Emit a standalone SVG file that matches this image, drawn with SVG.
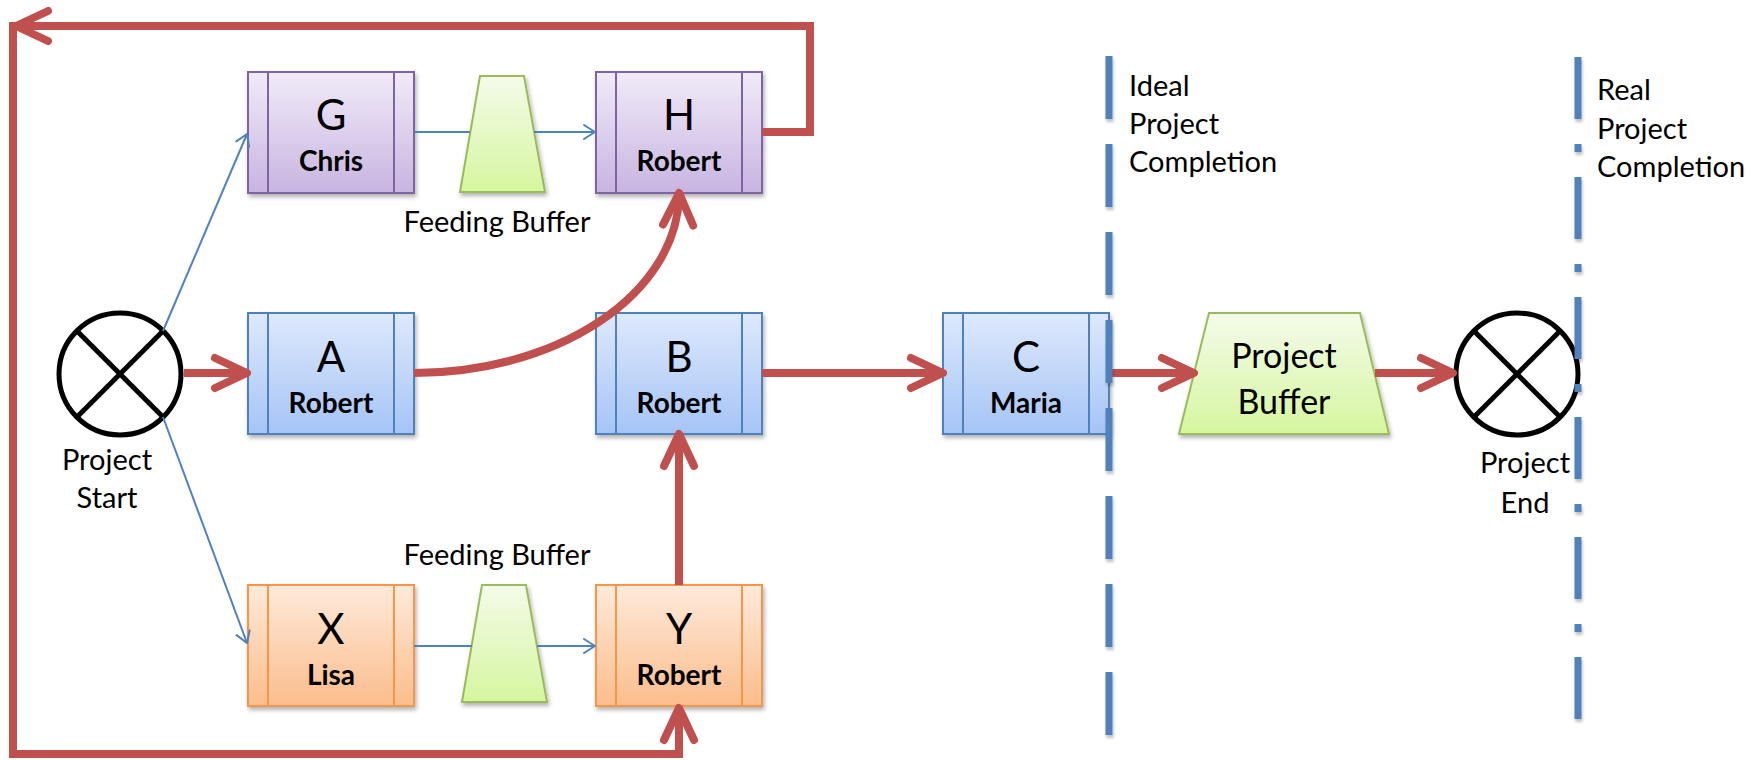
<svg xmlns="http://www.w3.org/2000/svg" width="1764" height="760" viewBox="0 0 1764 760">
<defs>
  <linearGradient id="gPurple" x1="0" y1="0" x2="0" y2="1">
    <stop offset="0" stop-color="#F1EBF8"/><stop offset="1" stop-color="#C8B4E1"/>
  </linearGradient>
  <linearGradient id="gBlue" x1="0" y1="0" x2="0" y2="1">
    <stop offset="0" stop-color="#DEE9FC"/><stop offset="1" stop-color="#A5C4F6"/>
  </linearGradient>
  <linearGradient id="gOrange" x1="0" y1="0" x2="0" y2="1">
    <stop offset="0" stop-color="#FEEADB"/><stop offset="1" stop-color="#FBBD8C"/>
  </linearGradient>
  <linearGradient id="gGreen" x1="0" y1="0" x2="0" y2="1">
    <stop offset="0" stop-color="#F4FBEA"/><stop offset="1" stop-color="#D6F69F"/>
  </linearGradient>
  <filter id="shadow" x="-10%" y="-10%" width="130%" height="130%">
    <feDropShadow dx="1.5" dy="3" stdDeviation="2" flood-color="#000" flood-opacity="0.3"/>
  </filter>
  <filter id="lineShadow" filterUnits="userSpaceOnUse" x="0" y="0" width="1764" height="760">
    <feDropShadow dx="1" dy="3" stdDeviation="1.5" flood-color="#000" flood-opacity="0.25"/>
  </filter>
  <marker id="redArrow" markerUnits="userSpaceOnUse" viewBox="-44 -24 52 48" markerWidth="52" markerHeight="48" refX="-4" refY="0" orient="auto">
    <path d="M-32,-15 L0,0 L-32,15" fill="none" stroke="#C0504D" stroke-width="8" stroke-linecap="round" stroke-linejoin="round"/>
  </marker>
  <marker id="blueArrow" markerUnits="userSpaceOnUse" viewBox="-16 -10 20 20" markerWidth="20" markerHeight="20" refX="0" refY="0" orient="auto">
    <path d="M-11,-7 L0,0 L-11,7" fill="none" stroke="#4F81BD" stroke-width="2" stroke-linecap="round" stroke-linejoin="round"/>
  </marker>
</defs>
<style>
  .box { stroke-width: 2; filter: url(#shadow); }
  .purple { fill: url(#gPurple); stroke: #8064A2; }
  .blue { fill: url(#gBlue); stroke: #4F81BD; }
  .orange { fill: url(#gOrange); stroke: #F79646; }
  .div { stroke-width: 2; }
  .dpurple { stroke: #8064A2; }
  .dblue { stroke: #4F81BD; }
  .dorange { stroke: #F79646; }
  .buf { fill: url(#gGreen); stroke: #9BBB59; stroke-width: 2; filter: url(#shadow); }
  .evt { fill: #fff; stroke: #000; stroke-width: 5; }
  .cross { stroke: #000; stroke-width: 5; }
  .letter { font-family: Lato, "Open Sans", sans-serif; font-size: 42px; text-anchor: middle; fill: #000; }
  .name { font-family: Lato, "Open Sans", sans-serif; font-size: 28px; font-weight: bold; text-anchor: middle; fill: #000; }
  .lbl { font-family: Lato, "Open Sans", sans-serif; font-size: 29px; fill: #000; }
  .mid { text-anchor: middle; }
  .big { font-family: Lato, "Open Sans", sans-serif; font-size: 34px; text-anchor: middle; fill: #000; }
  .red { fill: none; stroke: #C0504D; stroke-width: 8; marker-end: url(#redArrow); }
  .bl { fill: none; stroke: #4F81BD; stroke-width: 2; }
  .bla { fill: none; stroke: #4F81BD; stroke-width: 2; marker-end: url(#blueArrow); }
  .milestone { fill: none; stroke: #4F81BD; stroke-width: 7; filter: url(#lineShadow); }
</style>
<rect width="1764" height="760" fill="#fff"/>

<g id="node-G">
  <rect class="box purple" x="248" y="72" width="166" height="121"/>
  <line class="div dpurple" x1="268" y1="72" x2="268" y2="193"/>
  <line class="div dpurple" x1="394" y1="72" x2="394" y2="193"/>
  <text class="letter" x="331" y="130">G</text>
  <text class="name" x="331" y="171">Chris</text>
</g>
<g id="node-H">
  <rect class="box purple" x="596" y="72" width="166" height="121"/>
  <line class="div dpurple" x1="616" y1="72" x2="616" y2="193"/>
  <line class="div dpurple" x1="742" y1="72" x2="742" y2="193"/>
  <text class="letter" x="679" y="130">H</text>
  <text class="name" x="679" y="171">Robert</text>
</g>
<g id="node-A">
  <rect class="box blue" x="248" y="313" width="166" height="121"/>
  <line class="div dblue" x1="268" y1="313" x2="268" y2="434"/>
  <line class="div dblue" x1="394" y1="313" x2="394" y2="434"/>
  <text class="letter" x="331" y="372">A</text>
  <text class="name" x="331" y="413">Robert</text>
</g>
<g id="node-B">
  <rect class="box blue" x="596" y="313" width="166" height="121"/>
  <line class="div dblue" x1="616" y1="313" x2="616" y2="434"/>
  <line class="div dblue" x1="742" y1="313" x2="742" y2="434"/>
  <text class="letter" x="679" y="372">B</text>
  <text class="name" x="679" y="413">Robert</text>
</g>
<g id="node-C">
  <rect class="box blue" x="943" y="313" width="166" height="121"/>
  <line class="div dblue" x1="963" y1="313" x2="963" y2="434"/>
  <line class="div dblue" x1="1089" y1="313" x2="1089" y2="434"/>
  <text class="letter" x="1026" y="372">C</text>
  <text class="name" x="1026" y="413">Maria</text>
</g>
<g id="node-X">
  <rect class="box orange" x="248" y="585" width="166" height="121"/>
  <line class="div dorange" x1="268" y1="585" x2="268" y2="706"/>
  <line class="div dorange" x1="394" y1="585" x2="394" y2="706"/>
  <text class="letter" x="331" y="644">X</text>
  <text class="name" x="331" y="685">Lisa</text>
</g>
<g id="node-Y">
  <rect class="box orange" x="596" y="585" width="166" height="121"/>
  <line class="div dorange" x1="616" y1="585" x2="616" y2="706"/>
  <line class="div dorange" x1="742" y1="585" x2="742" y2="706"/>
  <text class="letter" x="679" y="644">Y</text>
  <text class="name" x="679" y="685">Robert</text>
</g>
<g id="node-feeding-buffer-1">
  <polygon class="buf" points="480,76 524,76 545,192 460,192"/>
  <text class="lbl mid" x="497" y="232">Feeding Buffer</text>
</g>
<g id="node-feeding-buffer-2">
  <polygon class="buf" points="482,585 526,585 547,702 462,702"/>
  <text class="lbl mid" x="497" y="565">Feeding Buffer</text>
</g>
<g id="node-project-buffer">
  <polygon class="buf" points="1209,313 1360,313 1389,434 1179,434"/>
  <text class="big" x="1284" y="368">Project</text>
  <text class="big" x="1284" y="414">Buffer</text>
</g>
<g id="node-project-start">
  <circle class="evt" cx="120" cy="374" r="61"/>
  <line class="cross" x1="77" y1="331" x2="163" y2="417"/>
  <line class="cross" x1="163" y1="331" x2="77" y2="417"/>
  <text class="lbl mid" x="107" y="470">Project</text>
  <text class="lbl mid" x="107" y="508">Start</text>
</g>
<g id="node-project-end">
  <circle class="evt" cx="1517" cy="374" r="61"/>
  <line class="cross" x1="1474" y1="331" x2="1560" y2="417"/>
  <line class="cross" x1="1560" y1="331" x2="1474" y2="417"/>
  <text class="lbl mid" x="1525" y="473">Project</text>
  <text class="lbl mid" x="1525" y="513">End</text>
</g>

<g id="connectors">
  <line class="bla" x1="163" y1="331" x2="247" y2="134"/>
  <line class="bla" x1="163" y1="417" x2="247" y2="643"/>
  <line class="bl" x1="414" y1="132" x2="470" y2="132"/>
  <line class="bla" x1="534" y1="132" x2="595" y2="132"/>
  <line class="bl" x1="414" y1="646" x2="472" y2="646"/>
  <line class="bla" x1="537" y1="646" x2="595" y2="646"/>
  <line class="red" x1="184" y1="373" x2="243" y2="373"/>
  <path class="red" d="M414,373 A265,180 0 0 0 679,197"/>
  <line class="red" x1="679" y1="585" x2="679" y2="438"/>
  <line class="red" x1="762" y1="373" x2="939" y2="373"/>
  <line class="red" x1="1109" y1="373" x2="1190" y2="373"/>
  <line class="red" x1="1375" y1="373" x2="1449" y2="373"/>
  <path class="red" d="M762,132 H810 V26 H20"/>
  <path class="red" d="M13,22 V754 H679 V712"/>
</g>

<g id="milestones">
  <line class="milestone" x1="1109" y1="56" x2="1109" y2="735" stroke-dasharray="63 25"/>
  <line class="milestone" x1="1578" y1="57" x2="1578" y2="721" stroke-dasharray="62 25 8 25"/>
  <text class="lbl" x="1129" y="96">Ideal</text>
  <text class="lbl" x="1129" y="134">Project</text>
  <text class="lbl" x="1129" y="172">Completion</text>
  <text class="lbl" x="1597" y="100">Real</text>
  <text class="lbl" x="1597" y="139">Project</text>
  <text class="lbl" x="1597" y="177">Completion</text>
</g>
</svg>
